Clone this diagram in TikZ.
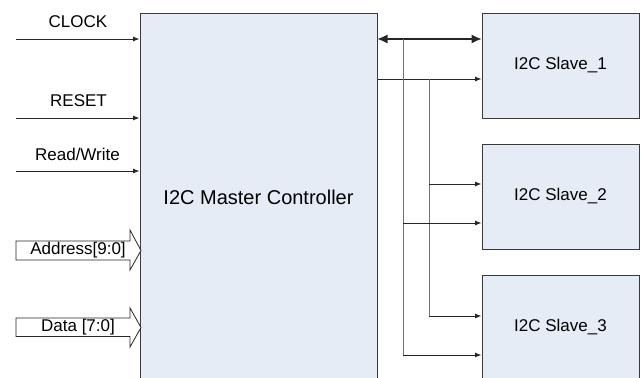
\documentclass[tikz,border=0pt]{standalone}
\usepackage{fontspec}
\setmainfont{Liberation Sans}
\usetikzlibrary{arrows.meta}
\definecolor{boxfill}{HTML}{E6ECF6}
\definecolor{boxline}{HTML}{3A3A3A}
\tikzset{
  block/.style={draw=boxline, fill=boxfill, line width=1pt, inner sep=0pt, rectangle},
  lbl/.style={font=\fontsize{17}{19}\selectfont, inner sep=0pt},
  sig/.style={line width=0.9pt, draw=black!85, -{Latex[length=6.5pt,width=5pt]}},
  bus/.style={line width=0.9pt, draw=gray!90!black},
  bidir/.style={line width=1.1pt, draw=black!85, {Latex[length=10pt,width=9pt]}-{Latex[length=10pt,width=9pt]}},
  busarrow/.style={draw=black!85, line width=0.8pt, fill=white}
}
\begin{document}
\begin{tikzpicture}[x=1pt,y=-1pt]
\useasboundingbox (0,0) rectangle (641,378);
% main blocks
\node[block, minimum width=237pt, minimum height=368pt] (m) at (258.5,197) {};
\node[font=\fontsize{20}{22}\selectfont, inner sep=0pt] (mt) at (258.5,197) {I2C Master Controller};
\node[block, minimum width=157pt, minimum height=105pt] (s1) at (560.5,65.5) {};
\node[lbl] at (s1.center) {I2C Slave\_1};
\node[block, minimum width=157pt, minimum height=105pt] (s2) at (560.5,196.5) {};
\node[lbl] at (s2.center) {I2C Slave\_2};
\node[block, minimum width=157pt, minimum height=105pt] (s3) at (560.5,327.5) {};
\node[lbl] at (s3.center) {I2C Slave\_3};

% left inputs
\node[lbl] (clk) at (78,21.5) {CLOCK};
\node[lbl] (rst) at (78.5,100.5) {RESET};
\node[lbl] (rw) at (77.5,154.5) {Read/Write};
\coordinate (clkS) at (16,39);
\coordinate (rstS) at (16,118);
\coordinate (rwS) at (16,171);
\draw[sig] (clkS) -- (clkS -| m.west);
\draw[sig] (rstS) -- (rstS -| m.west);
\draw[sig] (rwS) -- (rwS -| m.west);

% bus arrows
\draw[busarrow] (16,241) -- (130,241) -- (130,230) -- (141,250.5) -- (130,270) -- (130,260) -- (16,260) -- cycle;
\node[lbl] (addr) at (78,250.5) {Address[9:0]};
\draw[busarrow] (16,318) -- (130,318) -- (130,308) -- (141,327.5) -- (130,347) -- (130,336.5) -- (16,336.5) -- cycle;
\node[lbl] (data) at (78,327.5) {Data [7:0]};

% right side connectors
\coordinate (j1) at (403,39);
\coordinate (j2) at (429,79);
\draw[bidir] (m.east |- j1) -- (s1.west |- j1);
\draw[sig] (m.east |- j2) -- (s1.west |- j2);
\draw[bus] (j1) -- (403,355);
\draw[bus] (j2) -- (429,316);
\coordinate (a1) at (429,184);
\coordinate (a2) at (403,223);
\coordinate (a3) at (429,316);
\coordinate (a4) at (403,355);
\draw[sig] (a1) -- (a1 -| s2.west);
\draw[sig] (a2) -- (a2 -| s2.west);
\draw[sig] (a3) -- (a3 -| s3.west);
\draw[sig] (a4) -- (a4 -| s3.west);
\end{tikzpicture}
\end{document}
